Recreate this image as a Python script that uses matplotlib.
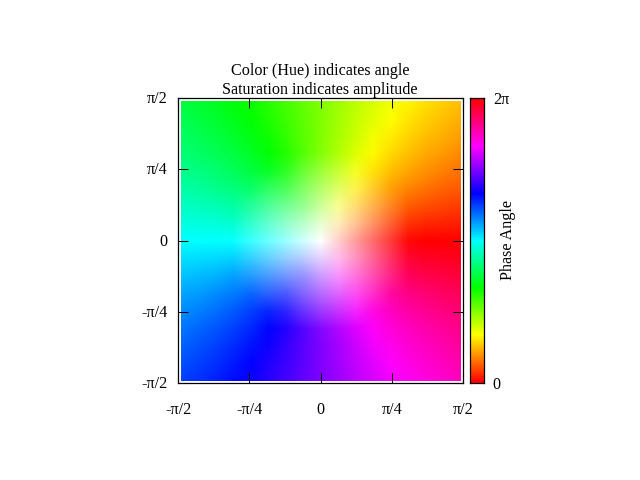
import numpy as np
import matplotlib
matplotlib.use("Agg")
import matplotlib.pyplot as plt
from matplotlib.colors import hsv_to_rgb, LinearSegmentedColormap
from matplotlib.patches import Rectangle
from matplotlib.transforms import ScaledTranslation

plt.rcParams['font.family'] = ['Liberation Serif', 'DejaVu Sans']

title_lines = ["Color (Hue) indicates angle", "Saturation indicates amplitude"]
tick_values = [-np.pi / 2, -np.pi / 4, 0, np.pi / 4, np.pi / 2]
tick_labels = ["-π/2", "-π/4", "0", "π/4", "π/2"]
cbar_label = "Phase Angle"
cbar_tick_labels = ["0", "2π"]
cbar_colors = ["#ff0000", "#ffff00", "#00ff00", "#00ffff", "#0000ff", "#ff00ff", "#ff0000"]

# Hue in degrees: top row first, left column first
hue_grid = [
    [135, 131, 127, 122, 117, 111, 104, 97, 90, 83, 76, 69, 63, 58, 53, 49, 45],
    [139, 135, 131, 126, 120, 113, 106, 98, 90, 82, 74, 67, 60, 54, 49, 45, 41],
    [143, 139, 135, 130, 124, 117, 108, 99, 90, 81, 72, 63, 56, 50, 45, 41, 37],
    [148, 144, 140, 135, 129, 121, 112, 101, 90, 79, 68, 59, 51, 45, 40, 36, 32],
    [153, 150, 146, 141, 135, 127, 117, 104, 90, 76, 63, 53, 45, 39, 34, 30, 27],
    [159, 157, 153, 149, 143, 135, 124, 108, 90, 72, 56, 45, 37, 31, 27, 23, 21],
    [166, 164, 162, 158, 153, 146, 135, 117, 90, 63, 45, 34, 27, 22, 18, 16, 14],
    [173, 172, 171, 169, 166, 162, 153, 135, 90, 45, 27, 18, 14, 11, 9, 8, 7],
    [180, 180, 180, 180, 180, 180, 180, 180, 0, 0, 0, 0, 0, 0, 0, 0, 0],
    [187, 188, 189, 191, 194, 198, 207, 225, 270, 315, 333, 342, 346, 349, 351, 352, 353],
    [194, 196, 198, 202, 207, 214, 225, 243, 270, 297, 315, 326, 333, 338, 342, 344, 346],
    [201, 203, 207, 211, 217, 225, 236, 252, 270, 288, 304, 315, 323, 329, 333, 337, 339],
    [207, 210, 214, 219, 225, 233, 243, 256, 270, 284, 297, 307, 315, 321, 326, 330, 333],
    [212, 216, 220, 225, 231, 239, 248, 259, 270, 281, 292, 301, 309, 315, 320, 324, 328],
    [217, 221, 225, 230, 236, 243, 252, 261, 270, 279, 288, 297, 304, 310, 315, 319, 323],
    [221, 225, 229, 234, 240, 247, 254, 262, 270, 278, 286, 293, 300, 306, 311, 315, 319],
    [225, 229, 233, 238, 243, 249, 256, 263, 270, 277, 284, 291, 297, 302, 307, 311, 315],
]

# Saturation, one quarter: centre at top-left of this table
saturation_quarter = [
    [0.00, 0.19, 0.39, 0.58, 0.77, 0.97, 1, 1, 1],
    [0.19, 0.27, 0.43, 0.61, 0.80, 0.98, 1, 1, 1],
    [0.39, 0.43, 0.55, 0.70, 0.86, 1, 1, 1, 1],
    [0.58, 0.61, 0.70, 0.82, 0.97, 1, 1, 1, 1],
    [0.77, 0.80, 0.86, 0.97, 1, 1, 1, 1, 1],
    [0.97, 0.98, 1, 1, 1, 1, 1, 1, 1],
    [1, 1, 1, 1, 1, 1, 1, 1, 1],
    [1, 1, 1, 1, 1, 1, 1, 1, 1],
    [1, 1, 1, 1, 1, 1, 1, 1, 1],
]

W, H = 640, 480
FS = 11.6


def box(l, t, r, b):
    return [l / W, 1 - b / H, (r - l) / W, (b - t) / H]


fig = plt.figure(figsize=(6.4, 4.8), dpi=100)
ax = fig.add_axes(box(178, 98, 463, 383))

hue = np.array(hue_grid, dtype=float) / 360.0
q = np.array(saturation_quarter, dtype=float)
right = np.vstack([q[:0:-1], q])
sat = np.hstack([right[:, :0:-1], right])
rgb = hsv_to_rgb(np.dstack([hue, sat, np.ones_like(hue)]))

half = (np.pi / 2) * 140.0 / 142.5
cell = half / 8
img = ax.imshow(rgb, extent=[-half - cell / 2, half + cell / 2, -half - cell / 2, half + cell / 2],
                origin="upper", interpolation="bilinear", aspect="auto", zorder=1)
clip = Rectangle((-half, -half), 2 * half, 2 * half, transform=ax.transData)
img.set_clip_path(clip)

ax.set_xlim(-np.pi / 2, np.pi / 2)
ax.set_ylim(-np.pi / 2, np.pi / 2)
ax.set_xticks(tick_values)
ax.set_xticklabels(tick_labels)
ax.set_yticks(tick_values)
ax.set_yticklabels(tick_labels)
ax.tick_params(direction="in", length=7.2, width=0.75, top=True, right=True,
               labelsize=FS, color="black", pad=7.4)
ax.tick_params(axis="x", pad=13.9)
for s in ax.spines.values():
    s.set_linewidth(0.9)
    s.set_zorder(5)
ax.set_axisbelow(False)
up_one = ScaledTranslation(0, 1 / 100, fig.dpi_scale_trans)
for t in ax.get_yticklabels():
    t.set_transform(t.get_transform() + up_one)

fig.text(320 / W, 1 - 71 / H, title_lines[0], ha="center", va="center", fontsize=FS)
fig.text(320 / W, 1 - 90 / H, title_lines[1], ha="center", va="center", fontsize=FS)

cax = fig.add_axes(box(470, 98, 484, 383))
cmap = LinearSegmentedColormap.from_list("phase", cbar_colors, N=512)
cax.imshow(np.linspace(1, 0, 286).reshape(-1, 1), cmap=cmap, aspect="auto",
           extent=[0, 1, 0, 2 * np.pi], interpolation="nearest")
cax.set_xticks([])
cax.yaxis.tick_right()
cax.set_yticks([0, 2 * np.pi])
cax.set_yticklabels(cbar_tick_labels)
cax.tick_params(length=0, labelsize=FS, pad=6.3)
for s in cax.spines.values():
    s.set_linewidth(0.9)

fig.text(508 / W, 1 - 239.5 / H, cbar_label, rotation=90, ha="center", va="center", fontsize=FS)

fig.savefig("out.png", dpi=100)
